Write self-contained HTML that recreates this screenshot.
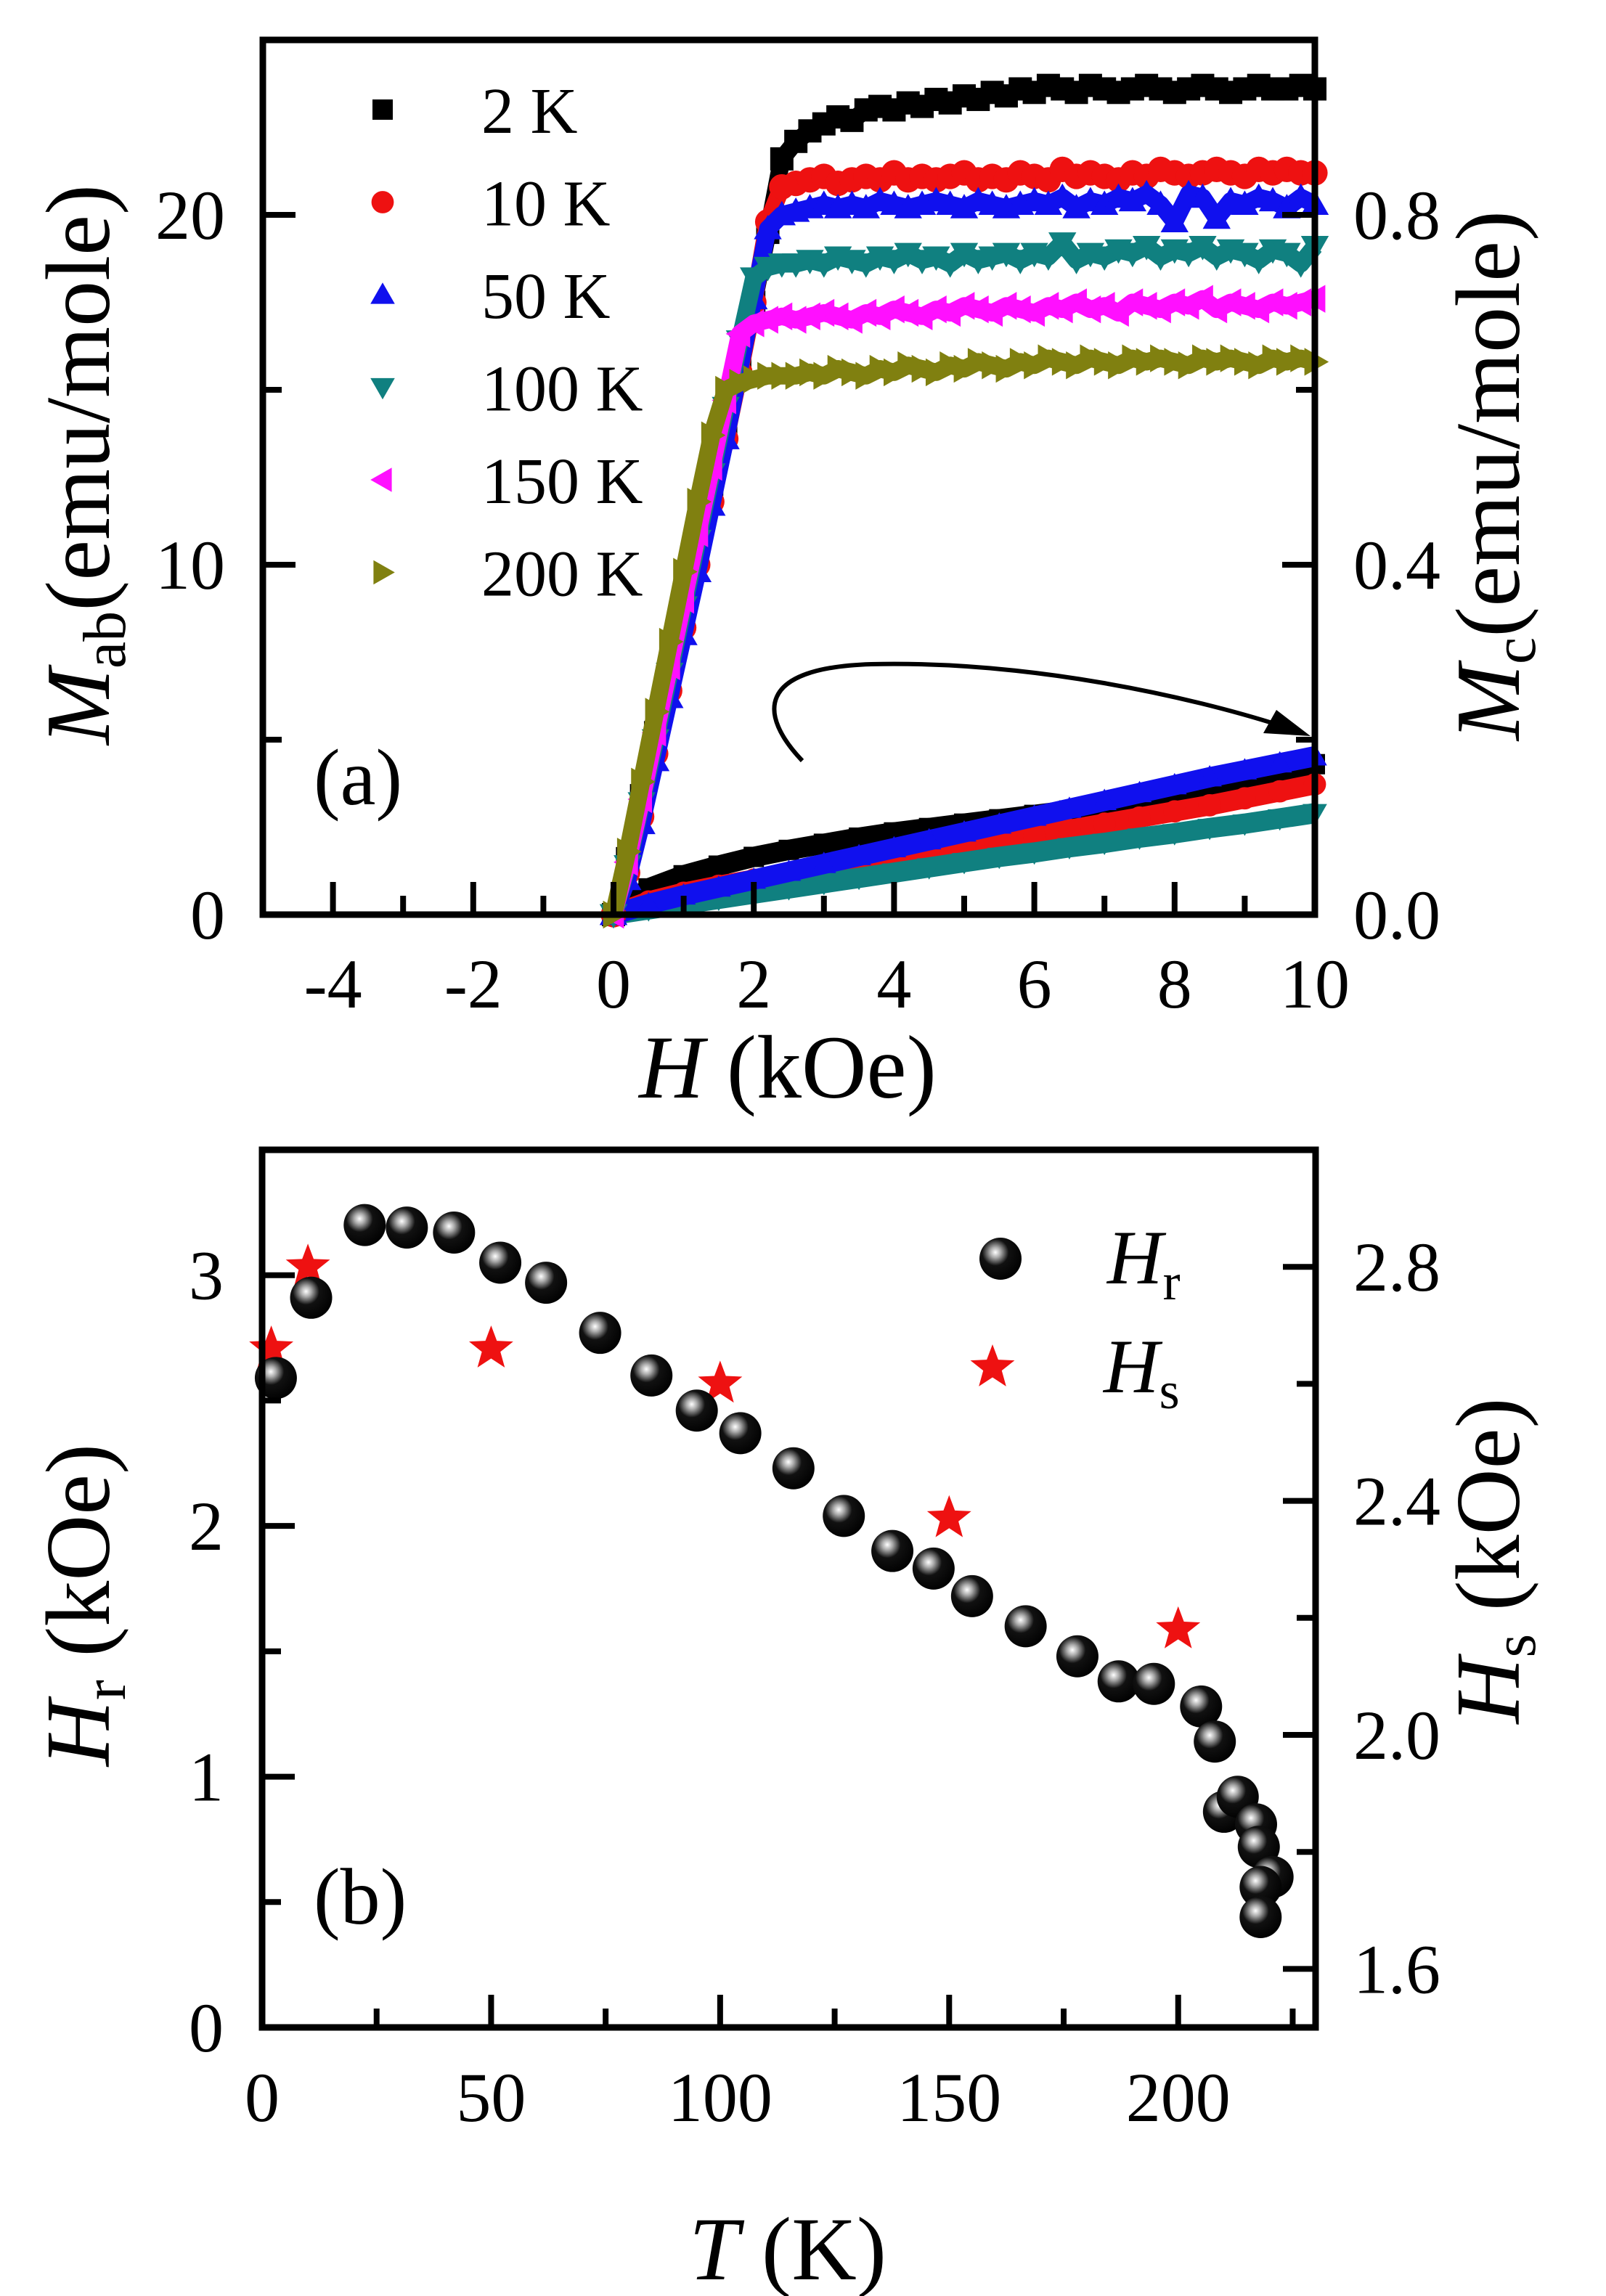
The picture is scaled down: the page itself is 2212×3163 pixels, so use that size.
<!DOCTYPE html>
<html><head><meta charset="utf-8"><style>
html,body{margin:0;padding:0;background:#fff}
svg{display:block}
text{font-family:"Liberation Serif",serif;fill:#000}
</style></head><body>
<svg id="fig" width="2212" height="3163" viewBox="0 0 2212 3163" xmlns="http://www.w3.org/2000/svg">
<defs>
<radialGradient id="ball" cx="0.38" cy="0.35" r="0.7">
<stop offset="0" stop-color="#fff"/><stop offset="0.18" stop-color="#aaa"/><stop offset="0.45" stop-color="#111"/><stop offset="1" stop-color="#000"/>
</radialGradient>
</defs>
<g id="pa"></g>
<g id="pb"></g>
</svg>
<script>
// ---------- Panel (a) data ----------
const hUp = [0,0.2,0.4,0.6,0.8,1.0,1.2,1.4,1.6,1.8,2.0,2.2,2.4,2.6,2.8,3.0,3.2,3.4,3.6,3.8,4.0,4.2,4.4,4.6,4.8,5.0,5.2,5.4,5.6,5.8,6.0,6.2,6.4,6.6,6.8,7.0,7.2,7.4,7.6,7.8,8.0,8.2,8.4,8.6,8.8,9.0,9.2,9.4,9.6,9.8,10.0];
const mab2K = [0,1.6,3.4,5.2,7.0,8.8,10.5,12.3,14.0,15.8,17.5,19.5,21.6,22.1,22.4,22.6,22.8,22.7,23.0,23.1,23.0,23.2,23.1,23.3,23.2,23.4,23.3,23.5,23.4,23.6,23.5,23.7,23.6,23.5,23.7,23.6,23.5,23.6,23.7,23.6,23.5,23.6,23.7,23.6,23.5,23.6,23.7,23.6,23.6,23.7,23.6];
const mab10K = [0,1.2,2.8,4.6,6.4,8.2,10.0,11.8,13.6,15.5,17.5,19.8,20.8,20.9,21.0,21.1,20.9,21.0,21.1,21.0,21.2,21.0,21.1,21.0,21.1,21.2,21.0,21.1,21.0,21.2,21.1,21.0,21.3,21.1,21.2,21.1,21.0,21.2,21.1,21.3,21.2,21.1,21.2,21.3,21.2,21.1,21.3,21.2,21.3,21.2,21.2];
const mab50K = [0,1.0,2.6,4.4,6.2,8.0,9.8,11.7,13.6,15.6,17.6,19.6,20.0,20.1,20.2,20.3,20.2,20.3,20.2,20.4,20.3,20.2,20.3,20.4,20.3,20.2,20.4,20.3,20.2,20.3,20.4,20.3,20.5,20.2,20.4,20.3,20.5,20.4,20.6,20.3,19.8,20.6,20.5,19.9,20.4,20.3,20.5,20.4,20.2,20.5,20.3];
const mab100K = [0,1.4,3.2,5.0,6.9,8.8,10.7,12.6,14.5,16.4,18.2,18.5,18.6,18.6,18.7,18.6,18.8,18.7,18.6,18.8,18.7,18.9,18.7,18.8,18.6,18.9,18.7,18.8,18.9,18.7,18.9,18.8,19.2,18.7,18.9,18.8,19.0,18.9,19.1,18.8,19.0,18.9,19.1,18.8,19.0,18.9,18.7,19.0,18.9,18.6,19.1];
const mab150K = [0,1.5,3.3,5.2,7.1,9.0,10.9,12.8,14.7,16.6,16.9,17.0,17.1,17.0,17.1,17.2,17.1,17.0,17.2,17.1,17.3,17.2,17.1,17.3,17.2,17.4,17.3,17.2,17.4,17.3,17.2,17.4,17.3,17.5,17.3,17.4,17.2,17.5,17.4,17.3,17.5,17.4,17.6,17.3,17.5,17.4,17.3,17.5,17.4,17.5,17.6];
const mab200K = [0,1.8,3.8,5.8,7.8,9.8,11.8,13.7,15.0,15.2,15.3,15.4,15.4,15.4,15.5,15.4,15.6,15.5,15.4,15.6,15.5,15.7,15.6,15.5,15.7,15.6,15.8,15.7,15.6,15.8,15.7,15.9,15.8,15.7,15.9,15.8,15.7,15.9,15.8,15.9,15.8,15.7,15.9,15.8,15.9,15.8,15.7,15.9,15.8,15.9,15.8];
const hLow = [0,0.5,1,1.5,2,2.5,3,3.5,4,4.5,5,5.5,6,6.5,7,7.5,8,8.5,9,9.5,10];
const mc2K = [0,0.03,0.045,0.056,0.066,0.074,0.081,0.088,0.094,0.099,0.104,0.109,0.114,0.119,0.124,0.130,0.137,0.145,0.154,0.163,0.172];
const mc10K = [0,0.015,0.025,0.033,0.040,0.047,0.054,0.060,0.066,0.072,0.078,0.084,0.090,0.097,0.104,0.111,0.118,0.125,0.133,0.141,0.149];
const mc50K = [0,0.012,0.022,0.031,0.040,0.049,0.058,0.067,0.076,0.085,0.094,0.103,0.112,0.121,0.130,0.139,0.148,0.157,0.165,0.173,0.181];
const mc100K = [0,0.006,0.012,0.018,0.024,0.030,0.036,0.042,0.048,0.054,0.060,0.066,0.071,0.077,0.082,0.088,0.093,0.099,0.104,0.110,0.116];
const legendA = ["2 K","10 K","50 K","100 K","150 K","200 K"];
const xTicksA = [-4,-2,0,2,4,6,8,10];
const yTicksAL = [0,10,20];
const yTicksAR = ["0.0","0.4","0.8"];

// ---------- Panel (b) data ----------
const tHr = [3,10.7,22.4,31.6,41.9,52,62,73.8,85,94.9,104.4,116,127,137.6,146.6,155,166.7,178,187,194.7,205,208,210,213,217,217.6,220.6,218,218];
const hrVals = [2.59,2.91,3.2,3.19,3.17,3.05,2.97,2.77,2.6,2.46,2.37,2.23,2.04,1.9,1.83,1.72,1.6,1.48,1.38,1.37,1.28,1.14,0.86,0.92,0.81,0.72,0.6,0.56,0.44];
const tHs = [2,10,50,100,150,200];
const hsVals = [2.66,2.80,2.66,2.60,2.37,2.18];
const xTicksB = [0,50,100,150,200];
const yTicksBL = [0,1,2,3];
const yTicksBR = ["1.6","2.0","2.4","2.8"];

const NS="http://www.w3.org/2000/svg";
function mk(parent,tag,attrs){const e=document.createElementNS(NS,tag);for(const k in attrs)e.setAttribute(k,attrs[k]);parent.appendChild(e);return e;}

// ---------- Panel (a) ----------
const A=document.getElementById('pa');
const aL=362,aR=1811,aT=55,aB=1260;
const xA=h=>aL+(h+5)/15*(aR-aL);
const yA=m=>aB-m/25*(aB-aT);
const yAc=c=>yA(c*25);
const colors=["#000000","#ee1111","#1010ee","#108080","#ff10ff","#808010"];
const shapes=["sq","ci","tu","td","tl","tr"];
function marker(g,shape,x,y,s,col){
  let e;
  if(shape==="sq") e=mk(g,'rect',{x:x-s,y:y-s,width:2*s,height:2*s,fill:col});
  else if(shape==="ci") e=mk(g,'circle',{cx:x,cy:y,r:s*1.1,fill:col});
  else {
    let p;
    if(shape==="tu") p=[[x,y-s*1.2],[x-s*1.2,y+s*0.9],[x+s*1.2,y+s*0.9]];
    if(shape==="td") p=[[x,y+s*1.2],[x-s*1.2,y-s*0.9],[x+s*1.2,y-s*0.9]];
    if(shape==="tl") p=[[x-s*1.2,y],[x+s*0.9,y-s*1.2],[x+s*0.9,y+s*1.2]];
    if(shape==="tr") p=[[x+s*1.2,y],[x-s*0.9,y-s*1.2],[x-s*0.9,y+s*1.2]];
    e=mk(g,'polygon',{points:p.map(q=>q.join(',')).join(' '),fill:col});
  }
  return e;
}
const lowSeries=[[mc2K,0],[mc10K,1],[mc100K,3],[mc50K,2]];
lowSeries.forEach(([vals,ci])=>{
  const g=mk(A,'g',{});
  
  
  mk(g,'polyline',{points:vals.map((v,i)=>xA(hLow[i])+','+yAc(v)).join(' '),fill:'none',stroke:colors[ci],'stroke-width':28,'stroke-linejoin':'round'});
  vals.forEach((v,i)=>{const m=marker(g,shapes[ci],xA(hLow[i]),yAc(v),14,colors[ci]);
    
    });
});
const upSeries=[mab2K,mab10K,mab50K,mab100K,mab150K,mab200K];
upSeries.forEach((vals,ci)=>{
  const g=mk(A,'g',{});
  
  
  mk(g,'polyline',{points:vals.map((v,i)=>xA(hUp[i])+','+yA(v)).join(' '),fill:'none',stroke:colors[ci],'stroke-width':24,'stroke-linejoin':'round'});
  vals.forEach((v,i)=>{const m=marker(g,shapes[ci],xA(hUp[i]),yA(v),16,colors[ci]);
    
    });
});
const fa=mk(A,'rect',{x:aL,y:aT,width:aR-aL,height:aB-aT,fill:'none',stroke:'#000','stroke-width':9});


for(let h=-5;h<=10;h+=1){const major=h%2===0;const L=major?45:26;
  mk(A,'line',{x1:xA(h),x2:xA(h),y1:aB,y2:aB-L,stroke:'#000','stroke-width':8});}
for(let m=0;m<=25;m+=5){const major=m%10===0;const L=major?45:26;
  mk(A,'line',{x1:aL,x2:aL+L,y1:yA(m),y2:yA(m),stroke:'#000','stroke-width':8});}
for(let c=0;c<=1.0;c+=0.2){const cc=Math.round(c*10)/10;const major=Math.abs(cc*10%4)<0.01;const L=major?45:26;
  if(yAc(cc)<aT)continue;
  mk(A,'line',{x1:aR,x2:aR-L,y1:yAc(cc),y2:yAc(cc),stroke:'#000','stroke-width':8});}
xTicksA.forEach(v=>{const t=mk(A,'text',{x:xA(v),y:1388,'font-size':96,'text-anchor':'middle'});t.textContent=v;
  
  });
yTicksAL.forEach(v=>{const t=mk(A,'text',{x:310,y:yA(v)+33,'font-size':96,'text-anchor':'end'});t.textContent=v;
  
  });
yTicksAR.forEach(v=>{const t=mk(A,'text',{x:1864,y:yAc(parseFloat(v))+33,'font-size':96});t.textContent=v;
  
  });
legendA.forEach((lab,i)=>{const y=151+i*127.5;
  const m=marker(A,shapes[i],527,y,14,colors[i]);
  
  
  const t=mk(A,'text',{x:663,y:y+32,'font-size':90});t.textContent=lab;
  
  });
</script>
<script>
(function(){
const A=document.getElementById('pa');
const p=mk(A,'path',{d:'M1105 1048 C1045 985,1040 920,1200 915 C1420 910,1640 960,1765 1000',fill:'none',stroke:'#000','stroke-width':6});


const h=mk(A,'polygon',{points:'1805,1014 1740,1010 1758,978',fill:'#000'});


const a=mk(A,'text',{x:432,y:1108,'font-size':110});a.textContent='(a)';


const xt=mk(A,'text',{x:1085,y:1512,'font-size':124,'text-anchor':'middle'});
xt.innerHTML='<tspan font-style="italic">H</tspan> (kOe)';


const yl=mk(A,'text',{x:0,y:0,'font-size':126,'text-anchor':'middle',transform:'translate(150,640) rotate(-90)'});
yl.innerHTML='<tspan font-style="italic">M</tspan><tspan font-size="84" dy="22">ab</tspan><tspan dy="-22">(emu/mole)</tspan>';


const yr=mk(A,'text',{x:0,y:0,'font-size':126,'text-anchor':'middle',transform:'translate(2092,655) rotate(-90)'});
yr.innerHTML='<tspan font-style="italic">M</tspan><tspan font-size="84" dy="22">c</tspan><tspan dy="-22">(emu/mole)</tspan>';


})();

(function(){
const B=document.getElementById('pb');
const bL=361,bR=1812,bT=1584,bB=2793;
const xB=t=>bL+t/230*(bR-bL);
const yBl=v=>bB-v/3.5*(bB-bT);
const yBr=v=>bB-(v-1.5)/1.5*(bB-bT);
function star(g,x,y,r,col){const pts=[];for(let i=0;i<10;i++){const a=-Math.PI/2+i*Math.PI/5;const rr=i%2?r*0.42:r;pts.push((x+rr*Math.cos(a))+','+(y+rr*Math.sin(a)));}
  return mk(g,'polygon',{points:pts.join(' '),fill:col});}
const gs=mk(B,'g',{});


tHs.forEach((t,i)=>{const s=star(gs,xB(t),yBr(hsVals[i]),32,'#ee1111');
  
  });
const gr=mk(B,'g',{});


tHr.forEach((t,i)=>{const c=mk(gr,'circle',{cx:xB(t),cy:yBl(hrVals[i]),r:29,fill:'url(#ball)'});
  
  });
const fb=mk(B,'rect',{x:bL,y:bT,width:bR-bL,height:bB-bT,fill:'none',stroke:'#000','stroke-width':9});


for(let t=0;t<=225;t+=25){const major=t%50===0;const L=major?45:26;
  mk(B,'line',{x1:xB(t),x2:xB(t),y1:bB,y2:bB-L,stroke:'#000','stroke-width':8});}
for(let v=0;v<=3.5;v+=0.5){const major=v%1===0;const L=major?45:26;
  mk(B,'line',{x1:bL,x2:bL+L,y1:yBl(v),y2:yBl(v),stroke:'#000','stroke-width':8});}
for(let k=8;k<=14;k++){const v=k/5;const major=k%2===0;const L=major?45:26;
  mk(B,'line',{x1:bR,x2:bR-L,y1:yBr(v),y2:yBr(v),stroke:'#000','stroke-width':8});}
xTicksB.forEach(v=>{const t=mk(B,'text',{x:xB(v),y:2922,'font-size':96,'text-anchor':'middle'});t.textContent=v;
  
  });
yTicksBL.forEach(v=>{const t=mk(B,'text',{x:308,y:yBl(v)+33,'font-size':96,'text-anchor':'end'});t.textContent=v;
  
  });
yTicksBR.forEach(v=>{const t=mk(B,'text',{x:1864,y:yBr(parseFloat(v))+33,'font-size':96});t.textContent=v;
  
  });
const lc=mk(B,'circle',{cx:1378,cy:1734,r:29,fill:'url(#ball)'});


const ls=star(B,1367,1884,32,'#ee1111');


const t1=mk(B,'text',{x:1525,y:1768,'font-size':106});
t1.innerHTML='<tspan font-style="italic">H</tspan><tspan font-size="72" dy="22">r</tspan>';


const t2=mk(B,'text',{x:1520,y:1918,'font-size':106});
t2.innerHTML='<tspan font-style="italic">H</tspan><tspan font-size="72" dy="22">s</tspan>';


const b=mk(B,'text',{x:432,y:2650,'font-size':110});b.textContent='(b)';


const xt=mk(B,'text',{x:1085,y:3140,'font-size':124,'text-anchor':'middle'});
xt.innerHTML='<tspan font-style="italic">T</tspan> (K)';


const yl=mk(B,'text',{x:0,y:0,'font-size':126,'text-anchor':'middle',transform:'translate(150,2211) rotate(-90)'});
yl.innerHTML='<tspan font-style="italic">H</tspan><tspan font-size="84" dy="22">r</tspan><tspan dy="-22"> (kOe)</tspan>';


const yr=mk(B,'text',{x:0,y:0,'font-size':126,'text-anchor':'middle',transform:'translate(2092,2150) rotate(-90)'});
yr.innerHTML='<tspan font-style="italic">H</tspan><tspan font-size="84" dy="22">s</tspan><tspan dy="-22"> (kOe)</tspan>';


})();
</script>
</body></html>
